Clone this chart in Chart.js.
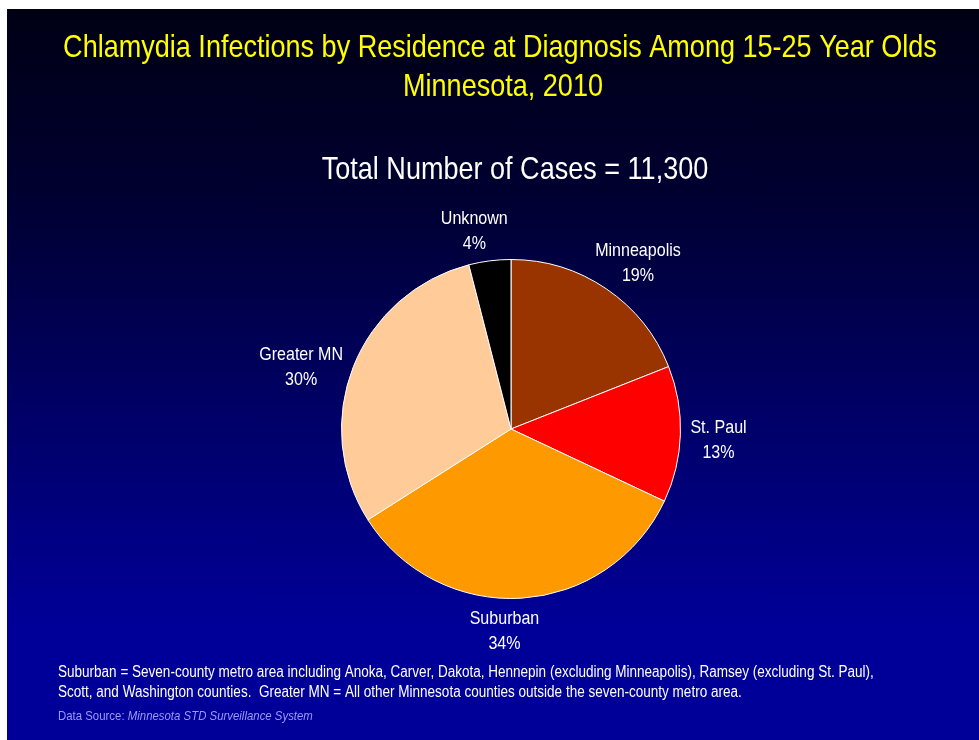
<!DOCTYPE html>
<html>
<head>
<meta charset="utf-8">
<script src="https://cdn.jsdelivr.net/npm/chart.js@4/dist/chart.umd.min.js"></script>
<style>
  html, body { margin: 0; padding: 0; background: #fff; }
  #wrap {
    position: absolute; left: 7px; top: 9px; width: 972px; height: 731px;
    background: linear-gradient(to bottom, #000014 0%, #000030 25%, #000066 55%, #000099 85%, #000099 100%);
  }
</style>
</head>
<body>
<div id="wrap"><canvas id="pie"></canvas></div>
<script>
// Residence at diagnosis, share of cases (%)
const regions = ['Minneapolis', 'St. Paul', 'Suburban', 'Greater MN', 'Unknown'];
const shares = [19, 13, 34, 30, 4];
const sliceColors = ['#993300', '#FF0000', '#FF9900', '#FFCC99', '#000000'];

const titleLines = ['Chlamydia Infections by Residence at Diagnosis Among 15-25 Year Olds', 'Minnesota, 2010'];
const subtitleText = 'Total Number of Cases = 11,300';
const footLines = [
    'Suburban = Seven-county metro area including Anoka, Carver, Dakota, Hennepin (excluding Minneapolis), Ramsey (excluding St. Paul),',
    'Scott, and Washington counties.  Greater MN = All other Minnesota counties outside the seven-county metro area.'
];
const sourceLabel = 'Data Source: ';
const sourceName = 'Minnesota STD Surveillance System';

const FONT = "'Liberation Sans', Arial, sans-serif";
const NARROW = 0.845; // squeeze regular sans into a narrow face

// draw text squeezed horizontally; returns drawn width
function narrowText(ctx, text, x, y, align) {
    const w = ctx.measureText(text).width * NARROW;
    let left = x;
    if (align === 'center') left = x - w / 2;
    else if (align === 'right') left = x - w;
    ctx.save();
    ctx.textAlign = 'left';
    ctx.translate(left, y);
    ctx.scale(NARROW, 1);
    ctx.fillText(text, 0, 0);
    ctx.restore();
    return w;
}

// Slide text: headings and footnotes
const slideText = {
    id: 'slideText',
    afterDraw(chart) {
        const ctx = chart.ctx;
        ctx.save();
        ctx.textBaseline = 'alphabetic';
        ctx.fillStyle = '#FFFF00';
        ctx.font = '32px ' + FONT;
        narrowText(ctx, titleLines[0], 493, 48, 'center');
        narrowText(ctx, titleLines[1], 496, 87, 'center');

        ctx.fillStyle = '#FFFFFF';
        ctx.font = '32px ' + FONT;
        narrowText(ctx, subtitleText, 508, 170, 'center');

        ctx.font = '16px ' + FONT;
        footLines.forEach((line, i) => narrowText(ctx, line, 51, 668 + i * 20, 'left'));

        ctx.fillStyle = '#9999FF';
        ctx.font = '13.5px ' + FONT;
        const w = narrowText(ctx, sourceLabel, 51, 711, 'left');
        ctx.font = 'italic 13.5px ' + FONT;
        narrowText(ctx, sourceName, 51 + w, 711, 'left');
        ctx.restore();
    }
};

// Category name + percent placed just outside each slice
const sliceLabels = {
    id: 'sliceLabels',
    afterDatasetsDraw(chart, args, opts) {
        const ctx = chart.ctx;
        const meta = chart.getDatasetMeta(0);
        ctx.save();
        ctx.fillStyle = '#FFFFFF';
        ctx.font = '19px ' + FONT;
        ctx.textBaseline = 'middle';
        meta.data.forEach((arc, i) => {
            const p = arc.getProps(['x', 'y', 'startAngle', 'endAngle', 'outerRadius'], true);
            const mid = (p.startAngle + p.endAngle) / 2;
            const dx = Math.cos(mid), dy = Math.sin(mid);
            const name = regions[i];
            const pct = shares[i] + '%';
            const halfW = Math.max(ctx.measureText(name).width, ctx.measureText(pct).width) * NARROW / 2;
            const halfH = 25;
            const r = p.outerRadius + 10;
            const [nx, ny] = opts.nudge[i] || [0, 0];
            const cx = p.x + dx * r + dx * halfW + nx;
            const cy = p.y + dy * r + dy * halfH + ny;
            narrowText(ctx, name, cx, cy - 12.5, 'center');
            narrowText(ctx, pct, cx, cy + 12.5, 'center');
        });
        ctx.restore();
    }
};

new Chart(document.getElementById('pie'), {
    type: 'pie',
    data: {
        labels: regions,
        datasets: [{
            data: shares,
            backgroundColor: sliceColors,
            borderColor: '#FFFFFF',
            borderWidth: 1
        }]
    },
    options: {
        responsive: true,
        maintainAspectRatio: false,
        animation: false,
        layout: { padding: { left: 334, right: 298, top: 250, bottom: 141 } },
        plugins: {
            legend: { display: false },
            tooltip: { enabled: false },
            title: { display: false },
            // hand-placed label tweaks, px
            sliceLabels: { nudge: [[2, 3], [0, 5], [-20, -2], [-4, 14], [-10, 5]] }
        }
    },
    plugins: [sliceLabels, slideText]
});
</script>
</body>
</html>
